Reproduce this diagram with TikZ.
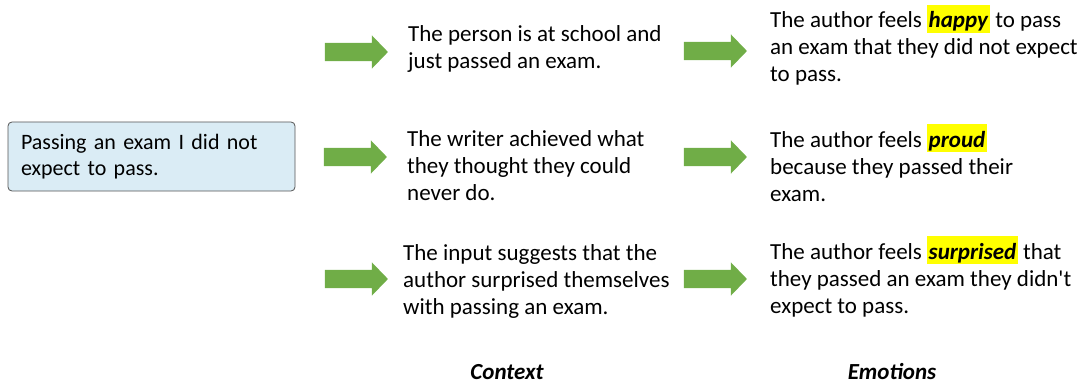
\documentclass[tikz,border=0pt]{standalone}
\usepackage{fontspec}
\setmainfont{Carlito}
\usetikzlibrary{shapes.arrows}

\definecolor{arrowgreen}{RGB}{112,173,71}
\definecolor{inputblue}{RGB}{218,236,245}
\definecolor{inputborder}{RGB}{85,85,85}
\definecolor{hlyellow}{RGB}{255,255,0}

\newcommand{\hlword}[1]{{\setlength{\fboxsep}{1.5pt}\colorbox{hlyellow}{\rule[-3.5pt]{0pt}{25pt}\textbf{\textit{#1}}}}}

\begin{document}
\begin{tikzpicture}[x=1pt,y=-1pt]
  \tikzset{bigarrow/.style = {single arrow, fill=arrowgreen, draw=none, inner sep=0pt,
      text height=18pt, text depth=0pt, minimum height=63pt,
      single arrow head extend=7.5pt, single arrow tip angle=92}}
  \tikzset{stext/.style = {align=left, inner sep=0pt, anchor=base west,
      font=\fontsize{23}{27}\selectfont}}
  \tikzset{coltitle/.style = {inner sep=0pt, anchor=base,
      font=\fontsize{23}{27}\selectfont\bfseries\itshape}}

  \useasboundingbox (0,0) rectangle (1084,385);

	% input
	\node[draw=inputborder, fill=inputblue, line width=0.8pt, rounded corners=4pt,
	  text width=261pt, inner xsep=13pt, inner ysep=0pt, minimum height=69pt,
	  align=left, font=\fontsize{22}{26}\selectfont] (input) at (151.5,156.5)
	  {Passing an exam I did not\\expect to pass.};

	% arrows
	\foreach \name/\x/\y in {arrA/352/52, arrB/351/157, arrC/352/279,
	    arrD/711/51, arrE/711/157, arrF/711/279}
	  \node[bigarrow] (\name) at (\x,\y) {};

	% context (base = last line)
	\node[stext] (ctxA) at (408,69) {The person is at school and\\just passed an exam.};
	\node[stext] (ctxB) at (407,200) {The writer achieved what\\they thought they could\\never do.};
	\node[stext] (ctxC) at (403,314) {The input suggests that the\\author surprised themselves\\with passing an exam.};

	% emotions
	\node[stext] (emoA) at (770,82) {The author feels \hlword{happy} to pass\\an exam that they did not expect\\to pass.};
	\node[stext] (emoB) at (770,201) {The author feels \hlword{proud}\\because they passed their\\exam.};
	\node[stext] (emoC) at (770,313) {The author feels \hlword{surprised} that\\they passed an exam they didn\textquotesingle t\\expect to pass.};

	\node[coltitle] (ctxtitle) at (507,379) {Context};
	\node[coltitle] (emotitle) at (892,379) {Emotions};
\end{tikzpicture}
\end{document}
